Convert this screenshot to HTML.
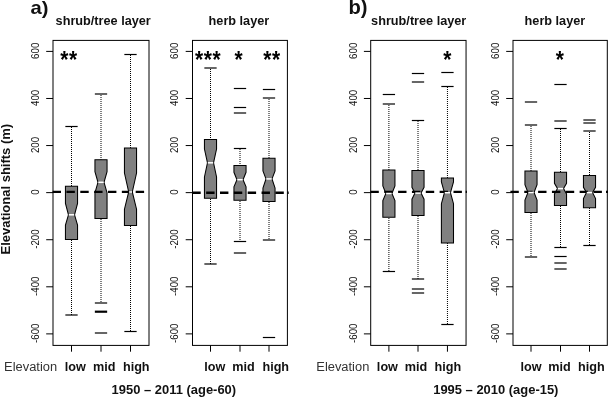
<!DOCTYPE html>
<html lang="en">
<head>
<meta charset="utf-8">
<title>Elevational shifts</title>
<style>
html,body{margin:0;padding:0;background:#fff;}
body{width:608px;height:397px;overflow:hidden;font-family:"Liberation Sans", Arial, Helvetica, sans-serif;}
svg{display:block;will-change:transform;filter:grayscale(1);}
</style>
</head>
<body>
<svg width="608" height="397" viewBox="0 0 608 397" font-family='"Liberation Sans", Arial, Helvetica, sans-serif'>
<rect width="608" height="397" fill="#fff"/>
<g>
<line x1="71.5" y1="127" x2="71.5" y2="186.2" stroke="#000" stroke-width="1" stroke-dasharray="1 1"/>
<line x1="71.5" y1="240" x2="71.5" y2="315" stroke="#000" stroke-width="1" stroke-dasharray="1 1"/>
<line x1="65.35" y1="126.5" x2="77.65" y2="126.5" stroke="#000" stroke-width="1.2"/>
<line x1="65.35" y1="315" x2="77.65" y2="315" stroke="#000" stroke-width="1.2"/>
<polygon points="65.45,186.2 77.55,186.2 77.55,203.4 74.53,214.8 77.55,225.1 77.55,239.5 65.45,239.5 65.45,225.1 68.47,214.8 65.45,203.4" fill="#808080" stroke="#000" stroke-width="1.05" stroke-linejoin="miter"/>
<line x1="101" y1="95" x2="101" y2="159.8" stroke="#000" stroke-width="1" stroke-dasharray="1 1"/>
<line x1="101" y1="219" x2="101" y2="303" stroke="#000" stroke-width="1" stroke-dasharray="1 1"/>
<line x1="94.85" y1="94" x2="107.15" y2="94" stroke="#000" stroke-width="1.2"/>
<line x1="94.85" y1="303" x2="107.15" y2="303" stroke="#000" stroke-width="1.2"/>
<polygon points="94.95,159.8 107.05,159.8 107.05,171.7 104.03,182.3 107.05,192.9 107.05,218.5 94.95,218.5 94.95,192.9 97.97,182.3 94.95,171.7" fill="#808080" stroke="#000" stroke-width="1.05" stroke-linejoin="miter"/>
<line x1="94.85" y1="311.7" x2="107.15" y2="311.7" stroke="#000" stroke-width="2.2"/>
<line x1="94.85" y1="333" x2="107.15" y2="333" stroke="#000" stroke-width="1.2"/>
<line x1="130.5" y1="55" x2="130.5" y2="148" stroke="#000" stroke-width="1" stroke-dasharray="1 1"/>
<line x1="130.5" y1="226" x2="130.5" y2="331.5" stroke="#000" stroke-width="1" stroke-dasharray="1 1"/>
<line x1="124.35" y1="54.5" x2="136.65" y2="54.5" stroke="#000" stroke-width="1.2"/>
<line x1="124.35" y1="331.5" x2="136.65" y2="331.5" stroke="#000" stroke-width="1.2"/>
<polygon points="124.45,148 136.55,148 136.55,173 132.31,192 136.55,209.2 136.55,225.4 124.45,225.4 124.45,209.2 128.69,192 124.45,173" fill="#808080" stroke="#000" stroke-width="1.05" stroke-linejoin="miter"/>
<line x1="52.6" y1="191.8" x2="149" y2="191.8" stroke="#000" stroke-width="2.3" stroke-dasharray="8.4 5.45"/>
<line x1="68.77" y1="214.8" x2="74.23" y2="214.8" stroke="#fff" stroke-width="1.5"/>
<line x1="98.27" y1="182.3" x2="103.73" y2="182.3" stroke="#fff" stroke-width="1.5"/>
<line x1="128.99" y1="192" x2="132.01" y2="192" stroke="#fff" stroke-width="1.5"/>
<rect x="53" y="40.4" width="96" height="305" fill="none" stroke="#000" stroke-width="1"/>
<line x1="46.2" y1="51.4" x2="53" y2="51.4" stroke="#000" stroke-width="1"/>
<text transform="translate(38.8 50.8) rotate(-90) scale(0.97 1)" text-anchor="middle" font-size="10.0" fill="#111">600</text>
<line x1="46.2" y1="98.48" x2="53" y2="98.48" stroke="#000" stroke-width="1"/>
<text transform="translate(38.8 97.88) rotate(-90) scale(0.97 1)" text-anchor="middle" font-size="10.0" fill="#111">400</text>
<line x1="46.2" y1="145.56" x2="53" y2="145.56" stroke="#000" stroke-width="1"/>
<text transform="translate(38.8 144.96) rotate(-90) scale(0.97 1)" text-anchor="middle" font-size="10.0" fill="#111">200</text>
<line x1="46.2" y1="192.64" x2="53" y2="192.64" stroke="#000" stroke-width="1"/>
<text transform="translate(38.8 192.04) rotate(-90) scale(0.97 1)" text-anchor="middle" font-size="10.0" fill="#111">0</text>
<line x1="46.2" y1="239.72" x2="53" y2="239.72" stroke="#000" stroke-width="1"/>
<text transform="translate(38.8 239.12) rotate(-90) scale(0.97 1)" text-anchor="middle" font-size="10.0" fill="#111">-200</text>
<line x1="46.2" y1="286.8" x2="53" y2="286.8" stroke="#000" stroke-width="1"/>
<text transform="translate(38.8 286.2) rotate(-90) scale(0.97 1)" text-anchor="middle" font-size="10.0" fill="#111">-400</text>
<line x1="46.2" y1="333.88" x2="53" y2="333.88" stroke="#000" stroke-width="1"/>
<text transform="translate(38.8 333.28) rotate(-90) scale(0.97 1)" text-anchor="middle" font-size="10.0" fill="#111">-600</text>
<line x1="71.5" y1="345.4" x2="71.5" y2="351.7" stroke="#000" stroke-width="1"/>
<line x1="101" y1="345.4" x2="101" y2="351.7" stroke="#000" stroke-width="1"/>
<line x1="130.5" y1="345.4" x2="130.5" y2="351.7" stroke="#000" stroke-width="1"/>
<text transform="translate(75.25 371.2) scale(1 1.03)" text-anchor="middle" font-size="12.65" font-weight="bold" fill="#111">low</text>
<text transform="translate(104.25 371.2) scale(1 1.03)" text-anchor="middle" font-size="12.65" font-weight="bold" fill="#111">mid</text>
<text transform="translate(136.25 371.2) scale(1 1.03)" text-anchor="middle" font-size="12.65" font-weight="bold" fill="#111">high</text>
<text transform="translate(69 68.2) scale(1 1.12)" text-anchor="middle" font-size="21.0" font-weight="bold" fill="#000" letter-spacing="0.5">**</text>
<text transform="translate(103.2 24.65)" text-anchor="middle" font-size="12.7" font-weight="bold" fill="#111">shrub/tree layer</text>
</g>
<g>
<line x1="210.5" y1="69" x2="210.5" y2="139.4" stroke="#000" stroke-width="1" stroke-dasharray="1 1"/>
<line x1="210.5" y1="199" x2="210.5" y2="264" stroke="#000" stroke-width="1" stroke-dasharray="1 1"/>
<line x1="204.35" y1="68" x2="216.65" y2="68" stroke="#000" stroke-width="1.2"/>
<line x1="204.35" y1="264" x2="216.65" y2="264" stroke="#000" stroke-width="1.2"/>
<polygon points="204.45,139.4 216.55,139.4 216.55,149 213.53,162.8 216.55,177 216.55,198.3 204.45,198.3 204.45,177 207.47,162.8 204.45,149" fill="#808080" stroke="#000" stroke-width="1.05" stroke-linejoin="miter"/>
<line x1="240" y1="149" x2="240" y2="165.4" stroke="#000" stroke-width="1" stroke-dasharray="1 1"/>
<line x1="240" y1="201" x2="240" y2="241.5" stroke="#000" stroke-width="1" stroke-dasharray="1 1"/>
<line x1="233.85" y1="148.5" x2="246.15" y2="148.5" stroke="#000" stroke-width="1.2"/>
<line x1="233.85" y1="241.5" x2="246.15" y2="241.5" stroke="#000" stroke-width="1.2"/>
<polygon points="233.95,165.4 246.05,165.4 246.05,172.3 243.03,179.7 246.05,186.8 246.05,200.2 233.95,200.2 233.95,186.8 236.97,179.7 233.95,172.3" fill="#808080" stroke="#000" stroke-width="1.05" stroke-linejoin="miter"/>
<line x1="233.85" y1="88.5" x2="246.15" y2="88.5" stroke="#000" stroke-width="1.2"/>
<line x1="233.85" y1="107.5" x2="246.15" y2="107.5" stroke="#000" stroke-width="1.2"/>
<line x1="233.85" y1="113" x2="246.15" y2="113" stroke="#000" stroke-width="1.2"/>
<line x1="233.85" y1="253" x2="246.15" y2="253" stroke="#000" stroke-width="1.2"/>
<line x1="269" y1="99" x2="269" y2="158.2" stroke="#000" stroke-width="1" stroke-dasharray="1 1"/>
<line x1="269" y1="202" x2="269" y2="240" stroke="#000" stroke-width="1" stroke-dasharray="1 1"/>
<line x1="262.85" y1="98" x2="275.15" y2="98" stroke="#000" stroke-width="1.2"/>
<line x1="262.85" y1="240" x2="275.15" y2="240" stroke="#000" stroke-width="1.2"/>
<polygon points="262.95,158.2 275.05,158.2 275.05,171 272.02,178.9 275.05,188.1 275.05,201.5 262.95,201.5 262.95,188.1 265.98,178.9 262.95,171" fill="#808080" stroke="#000" stroke-width="1.05" stroke-linejoin="miter"/>
<line x1="262.85" y1="89.5" x2="275.15" y2="89.5" stroke="#000" stroke-width="1.2"/>
<line x1="262.85" y1="337.5" x2="275.15" y2="337.5" stroke="#000" stroke-width="1.2"/>
<line x1="192.3" y1="192.75" x2="288.6" y2="192.75" stroke="#000" stroke-width="2.3" stroke-dasharray="8.4 5.45"/>
<line x1="287.5" y1="192.75" x2="288.7" y2="192.75" stroke="#000" stroke-width="2.3"/>
<line x1="207.78" y1="162.8" x2="213.22" y2="162.8" stroke="#fff" stroke-width="1.5"/>
<line x1="237.28" y1="179.7" x2="242.72" y2="179.7" stroke="#fff" stroke-width="1.5"/>
<line x1="266.28" y1="178.9" x2="271.72" y2="178.9" stroke="#fff" stroke-width="1.5"/>
<rect x="192.5" y="40.4" width="94.9" height="305" fill="none" stroke="#000" stroke-width="1"/>
<line x1="185.7" y1="51.4" x2="192.5" y2="51.4" stroke="#000" stroke-width="1"/>
<text transform="translate(178.3 50.8) rotate(-90) scale(0.97 1)" text-anchor="middle" font-size="10.0" fill="#111">600</text>
<line x1="185.7" y1="98.48" x2="192.5" y2="98.48" stroke="#000" stroke-width="1"/>
<text transform="translate(178.3 97.88) rotate(-90) scale(0.97 1)" text-anchor="middle" font-size="10.0" fill="#111">400</text>
<line x1="185.7" y1="145.56" x2="192.5" y2="145.56" stroke="#000" stroke-width="1"/>
<text transform="translate(178.3 144.96) rotate(-90) scale(0.97 1)" text-anchor="middle" font-size="10.0" fill="#111">200</text>
<line x1="185.7" y1="192.64" x2="192.5" y2="192.64" stroke="#000" stroke-width="1"/>
<text transform="translate(178.3 192.04) rotate(-90) scale(0.97 1)" text-anchor="middle" font-size="10.0" fill="#111">0</text>
<line x1="185.7" y1="239.72" x2="192.5" y2="239.72" stroke="#000" stroke-width="1"/>
<text transform="translate(178.3 239.12) rotate(-90) scale(0.97 1)" text-anchor="middle" font-size="10.0" fill="#111">-200</text>
<line x1="185.7" y1="286.8" x2="192.5" y2="286.8" stroke="#000" stroke-width="1"/>
<text transform="translate(178.3 286.2) rotate(-90) scale(0.97 1)" text-anchor="middle" font-size="10.0" fill="#111">-400</text>
<line x1="185.7" y1="333.88" x2="192.5" y2="333.88" stroke="#000" stroke-width="1"/>
<text transform="translate(178.3 333.28) rotate(-90) scale(0.97 1)" text-anchor="middle" font-size="10.0" fill="#111">-600</text>
<line x1="210.5" y1="345.4" x2="210.5" y2="351.7" stroke="#000" stroke-width="1"/>
<line x1="240" y1="345.4" x2="240" y2="351.7" stroke="#000" stroke-width="1"/>
<line x1="269" y1="345.4" x2="269" y2="351.7" stroke="#000" stroke-width="1"/>
<text transform="translate(214.75 371.2) scale(1 1.03)" text-anchor="middle" font-size="12.65" font-weight="bold" fill="#111">low</text>
<text transform="translate(243.5 371.2) scale(1 1.03)" text-anchor="middle" font-size="12.65" font-weight="bold" fill="#111">mid</text>
<text transform="translate(275.75 371.2) scale(1 1.03)" text-anchor="middle" font-size="12.65" font-weight="bold" fill="#111">high</text>
<text transform="translate(208.1 68.2) scale(1 1.12)" text-anchor="middle" font-size="21.0" font-weight="bold" fill="#000" letter-spacing="0.5">***</text>
<text transform="translate(238.9 68.2) scale(1 1.12)" text-anchor="middle" font-size="21.0" font-weight="bold" fill="#000" letter-spacing="0.5">*</text>
<text transform="translate(272 68.2) scale(1 1.12)" text-anchor="middle" font-size="21.0" font-weight="bold" fill="#000" letter-spacing="0.5">**</text>
<text transform="translate(238.9 24.65)" text-anchor="middle" font-size="12.7" font-weight="bold" fill="#111">herb layer</text>
</g>
<g>
<line x1="388.9" y1="105" x2="388.9" y2="170" stroke="#000" stroke-width="1" stroke-dasharray="1 1"/>
<line x1="388.9" y1="218" x2="388.9" y2="271.5" stroke="#000" stroke-width="1" stroke-dasharray="1 1"/>
<line x1="382.75" y1="104" x2="395.05" y2="104" stroke="#000" stroke-width="1.2"/>
<line x1="382.75" y1="271.5" x2="395.05" y2="271.5" stroke="#000" stroke-width="1.2"/>
<polygon points="382.85,170 394.95,170 394.95,186 391.92,193.5 394.95,200.5 394.95,217.2 382.85,217.2 382.85,200.5 385.88,193.5 382.85,186" fill="#808080" stroke="#000" stroke-width="1.05" stroke-linejoin="miter"/>
<line x1="382.75" y1="94.5" x2="395.05" y2="94.5" stroke="#000" stroke-width="1.2"/>
<line x1="418" y1="121" x2="418" y2="170.4" stroke="#000" stroke-width="1" stroke-dasharray="1 1"/>
<line x1="418" y1="216" x2="418" y2="279" stroke="#000" stroke-width="1" stroke-dasharray="1 1"/>
<line x1="411.85" y1="120.5" x2="424.15" y2="120.5" stroke="#000" stroke-width="1.2"/>
<line x1="411.85" y1="279" x2="424.15" y2="279" stroke="#000" stroke-width="1.2"/>
<polygon points="411.95,170.4 424.05,170.4 424.05,187.3 421.02,193.1 424.05,199.2 424.05,215.4 411.95,215.4 411.95,199.2 414.98,193.1 411.95,187.3" fill="#808080" stroke="#000" stroke-width="1.05" stroke-linejoin="miter"/>
<line x1="411.85" y1="73.5" x2="424.15" y2="73.5" stroke="#000" stroke-width="1.2"/>
<line x1="411.85" y1="82" x2="424.15" y2="82" stroke="#000" stroke-width="1.2"/>
<line x1="411.85" y1="289" x2="424.15" y2="289" stroke="#000" stroke-width="1.2"/>
<line x1="411.85" y1="293" x2="424.15" y2="293" stroke="#000" stroke-width="1.2"/>
<line x1="447.45" y1="87" x2="447.45" y2="178" stroke="#000" stroke-width="1" stroke-dasharray="1 1"/>
<line x1="447.45" y1="243" x2="447.45" y2="324.5" stroke="#000" stroke-width="1" stroke-dasharray="1 1"/>
<line x1="441.3" y1="86.5" x2="453.6" y2="86.5" stroke="#000" stroke-width="1.2"/>
<line x1="441.3" y1="324.5" x2="453.6" y2="324.5" stroke="#000" stroke-width="1.2"/>
<polygon points="441.4,178 453.5,178 453.5,182 450.47,192.7 453.5,203.7 453.5,242.9 441.4,242.9 441.4,203.7 444.43,192.7 441.4,182" fill="#808080" stroke="#000" stroke-width="1.05" stroke-linejoin="miter"/>
<line x1="441.3" y1="72.5" x2="453.6" y2="72.5" stroke="#000" stroke-width="1.2"/>
<line x1="370.4" y1="191.8" x2="466.8" y2="191.8" stroke="#000" stroke-width="2.3" stroke-dasharray="8.4 5.45"/>
<line x1="465.7" y1="191.8" x2="466.9" y2="191.8" stroke="#000" stroke-width="2.3"/>
<line x1="386.18" y1="193.5" x2="391.62" y2="193.5" stroke="#fff" stroke-width="1.5"/>
<line x1="415.28" y1="193.1" x2="420.72" y2="193.1" stroke="#fff" stroke-width="1.5"/>
<line x1="444.73" y1="192.7" x2="450.17" y2="192.7" stroke="#fff" stroke-width="1.5"/>
<rect x="370.7" y="40.4" width="95.35" height="305" fill="none" stroke="#000" stroke-width="1"/>
<line x1="363.9" y1="51.4" x2="370.7" y2="51.4" stroke="#000" stroke-width="1"/>
<text transform="translate(356.5 50.8) rotate(-90) scale(0.97 1)" text-anchor="middle" font-size="10.0" fill="#111">600</text>
<line x1="363.9" y1="98.48" x2="370.7" y2="98.48" stroke="#000" stroke-width="1"/>
<text transform="translate(356.5 97.88) rotate(-90) scale(0.97 1)" text-anchor="middle" font-size="10.0" fill="#111">400</text>
<line x1="363.9" y1="145.56" x2="370.7" y2="145.56" stroke="#000" stroke-width="1"/>
<text transform="translate(356.5 144.96) rotate(-90) scale(0.97 1)" text-anchor="middle" font-size="10.0" fill="#111">200</text>
<line x1="363.9" y1="192.64" x2="370.7" y2="192.64" stroke="#000" stroke-width="1"/>
<text transform="translate(356.5 192.04) rotate(-90) scale(0.97 1)" text-anchor="middle" font-size="10.0" fill="#111">0</text>
<line x1="363.9" y1="239.72" x2="370.7" y2="239.72" stroke="#000" stroke-width="1"/>
<text transform="translate(356.5 239.12) rotate(-90) scale(0.97 1)" text-anchor="middle" font-size="10.0" fill="#111">-200</text>
<line x1="363.9" y1="286.8" x2="370.7" y2="286.8" stroke="#000" stroke-width="1"/>
<text transform="translate(356.5 286.2) rotate(-90) scale(0.97 1)" text-anchor="middle" font-size="10.0" fill="#111">-400</text>
<line x1="363.9" y1="333.88" x2="370.7" y2="333.88" stroke="#000" stroke-width="1"/>
<text transform="translate(356.5 333.28) rotate(-90) scale(0.97 1)" text-anchor="middle" font-size="10.0" fill="#111">-600</text>
<line x1="388.9" y1="345.4" x2="388.9" y2="351.7" stroke="#000" stroke-width="1"/>
<line x1="418" y1="345.4" x2="418" y2="351.7" stroke="#000" stroke-width="1"/>
<line x1="447.45" y1="345.4" x2="447.45" y2="351.7" stroke="#000" stroke-width="1"/>
<text transform="translate(387.4 371.2) scale(1 1.03)" text-anchor="middle" font-size="12.65" font-weight="bold" fill="#111">low</text>
<text transform="translate(416 371.2) scale(1 1.03)" text-anchor="middle" font-size="12.65" font-weight="bold" fill="#111">mid</text>
<text transform="translate(447.9 371.2) scale(1 1.03)" text-anchor="middle" font-size="12.65" font-weight="bold" fill="#111">high</text>
<text transform="translate(447.5 68.2) scale(1 1.12)" text-anchor="middle" font-size="21.0" font-weight="bold" fill="#000" letter-spacing="0.5">*</text>
<text transform="translate(418.7 24.65)" text-anchor="middle" font-size="12.7" font-weight="bold" fill="#111">shrub/tree layer</text>
</g>
<g>
<line x1="531" y1="126" x2="531" y2="171" stroke="#000" stroke-width="1" stroke-dasharray="1 1"/>
<line x1="531" y1="213" x2="531" y2="257" stroke="#000" stroke-width="1" stroke-dasharray="1 1"/>
<line x1="524.85" y1="125" x2="537.15" y2="125" stroke="#000" stroke-width="1.2"/>
<line x1="524.85" y1="257" x2="537.15" y2="257" stroke="#000" stroke-width="1.2"/>
<polygon points="524.95,171 537.05,171 537.05,184.6 534.02,192.5 537.05,200 537.05,212.4 524.95,212.4 524.95,200 527.98,192.5 524.95,184.6" fill="#808080" stroke="#000" stroke-width="1.05" stroke-linejoin="miter"/>
<line x1="524.85" y1="102" x2="537.15" y2="102" stroke="#000" stroke-width="1.2"/>
<line x1="560.5" y1="129" x2="560.5" y2="172.2" stroke="#000" stroke-width="1" stroke-dasharray="1 1"/>
<line x1="560.5" y1="206" x2="560.5" y2="247.5" stroke="#000" stroke-width="1" stroke-dasharray="1 1"/>
<line x1="554.35" y1="128.5" x2="566.65" y2="128.5" stroke="#000" stroke-width="1.2"/>
<line x1="554.35" y1="247.5" x2="566.65" y2="247.5" stroke="#000" stroke-width="1.2"/>
<polygon points="554.45,172.2 566.55,172.2 566.55,183.3 563.52,188.6 566.55,193.9 566.55,205.4 554.45,205.4 554.45,193.9 557.48,188.6 554.45,183.3" fill="#808080" stroke="#000" stroke-width="1.05" stroke-linejoin="miter"/>
<line x1="554.35" y1="84.5" x2="566.65" y2="84.5" stroke="#000" stroke-width="1.2"/>
<line x1="554.35" y1="121" x2="566.65" y2="121" stroke="#000" stroke-width="1.2"/>
<line x1="554.35" y1="256.5" x2="566.65" y2="256.5" stroke="#000" stroke-width="1.2"/>
<line x1="554.35" y1="263" x2="566.65" y2="263" stroke="#000" stroke-width="1.2"/>
<line x1="554.35" y1="269" x2="566.65" y2="269" stroke="#000" stroke-width="1.2"/>
<line x1="589.5" y1="132" x2="589.5" y2="175.4" stroke="#000" stroke-width="1" stroke-dasharray="1 1"/>
<line x1="589.5" y1="208" x2="589.5" y2="245.5" stroke="#000" stroke-width="1" stroke-dasharray="1 1"/>
<line x1="583.35" y1="131" x2="595.65" y2="131" stroke="#000" stroke-width="1.2"/>
<line x1="583.35" y1="245.5" x2="595.65" y2="245.5" stroke="#000" stroke-width="1.2"/>
<polygon points="583.45,175.4 595.55,175.4 595.55,187.3 592.52,192.6 595.55,198.6 595.55,207.8 583.45,207.8 583.45,198.6 586.48,192.6 583.45,187.3" fill="#808080" stroke="#000" stroke-width="1.05" stroke-linejoin="miter"/>
<line x1="583.35" y1="120" x2="595.65" y2="120" stroke="#000" stroke-width="1.2"/>
<line x1="583.35" y1="123" x2="595.65" y2="123" stroke="#000" stroke-width="1.2"/>
<line x1="510.4" y1="191.8" x2="608" y2="191.8" stroke="#000" stroke-width="2.3" stroke-dasharray="8.4 5.45"/>
<line x1="606" y1="191.8" x2="608" y2="191.8" stroke="#000" stroke-width="2.3"/>
<line x1="528.27" y1="192.5" x2="533.73" y2="192.5" stroke="#fff" stroke-width="1.5"/>
<line x1="557.77" y1="188.6" x2="563.23" y2="188.6" stroke="#fff" stroke-width="1.5"/>
<line x1="586.77" y1="192.6" x2="592.23" y2="192.6" stroke="#fff" stroke-width="1.5"/>
<rect x="513" y="40.4" width="94.3" height="305" fill="none" stroke="#000" stroke-width="1"/>
<line x1="506.2" y1="51.4" x2="513" y2="51.4" stroke="#000" stroke-width="1"/>
<text transform="translate(498.8 50.8) rotate(-90) scale(0.97 1)" text-anchor="middle" font-size="10.0" fill="#111">600</text>
<line x1="506.2" y1="98.48" x2="513" y2="98.48" stroke="#000" stroke-width="1"/>
<text transform="translate(498.8 97.88) rotate(-90) scale(0.97 1)" text-anchor="middle" font-size="10.0" fill="#111">400</text>
<line x1="506.2" y1="145.56" x2="513" y2="145.56" stroke="#000" stroke-width="1"/>
<text transform="translate(498.8 144.96) rotate(-90) scale(0.97 1)" text-anchor="middle" font-size="10.0" fill="#111">200</text>
<line x1="506.2" y1="192.64" x2="513" y2="192.64" stroke="#000" stroke-width="1"/>
<text transform="translate(498.8 192.04) rotate(-90) scale(0.97 1)" text-anchor="middle" font-size="10.0" fill="#111">0</text>
<line x1="506.2" y1="239.72" x2="513" y2="239.72" stroke="#000" stroke-width="1"/>
<text transform="translate(498.8 239.12) rotate(-90) scale(0.97 1)" text-anchor="middle" font-size="10.0" fill="#111">-200</text>
<line x1="506.2" y1="286.8" x2="513" y2="286.8" stroke="#000" stroke-width="1"/>
<text transform="translate(498.8 286.2) rotate(-90) scale(0.97 1)" text-anchor="middle" font-size="10.0" fill="#111">-400</text>
<line x1="506.2" y1="333.88" x2="513" y2="333.88" stroke="#000" stroke-width="1"/>
<text transform="translate(498.8 333.28) rotate(-90) scale(0.97 1)" text-anchor="middle" font-size="10.0" fill="#111">-600</text>
<line x1="531" y1="345.4" x2="531" y2="351.7" stroke="#000" stroke-width="1"/>
<line x1="560.5" y1="345.4" x2="560.5" y2="351.7" stroke="#000" stroke-width="1"/>
<line x1="589.5" y1="345.4" x2="589.5" y2="351.7" stroke="#000" stroke-width="1"/>
<text transform="translate(531 371.2) scale(1 1.03)" text-anchor="middle" font-size="12.65" font-weight="bold" fill="#111">low</text>
<text transform="translate(559.5 371.2) scale(1 1.03)" text-anchor="middle" font-size="12.65" font-weight="bold" fill="#111">mid</text>
<text transform="translate(591.4 371.2) scale(1 1.03)" text-anchor="middle" font-size="12.65" font-weight="bold" fill="#111">high</text>
<text transform="translate(560.1 68.2) scale(1 1.12)" text-anchor="middle" font-size="21.0" font-weight="bold" fill="#000" letter-spacing="0.5">*</text>
<text transform="translate(554.9 24.65)" text-anchor="middle" font-size="12.7" font-weight="bold" fill="#111">herb layer</text>
</g>
<text transform="translate(30.6 14.45) scale(1 0.95)" font-size="20.2" font-weight="bold" fill="#111">a)</text>
<text transform="translate(348.4 14.45) scale(1 0.985)" font-size="20.2" font-weight="bold" fill="#111">b)</text>
<text transform="translate(4.1 371.2) scale(1 1.06)" font-size="12.9" fill="#333">Elevation</text>
<text transform="translate(316.3 371.2) scale(1 1.06)" font-size="12.9" fill="#333">Elevation</text>
<text transform="translate(173.85 394.4) scale(1 0.98)" text-anchor="middle" font-size="12.95" font-weight="bold" fill="#111">1950 – 2011 (age-60)</text>
<text transform="translate(495.8 394.4) scale(1 0.98)" text-anchor="middle" font-size="12.95" font-weight="bold" fill="#111">1995 – 2010 (age-15)</text>
<text transform="translate(9.8 189.2) rotate(-90) scale(1 1.04)" text-anchor="middle" font-size="13" font-weight="bold" fill="#111">Elevational shifts (m)</text>
</svg>
</body>
</html>
